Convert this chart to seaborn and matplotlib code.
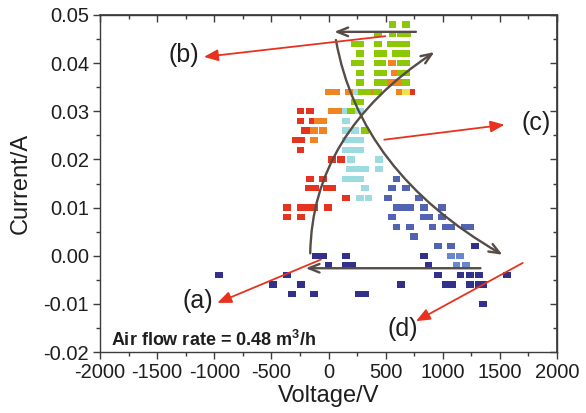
import matplotlib
matplotlib.use("Agg")
import numpy as np
import pandas as pd
import matplotlib.pyplot as plt
import seaborn as sns
from matplotlib.path import Path
from matplotlib.patches import FancyArrowPatch, ArrowStyle
from matplotlib.ticker import MultipleLocator, FormatStrFormatter

sns.set_theme(style="ticks")
plt.rcParams["font.family"] = ["Liberation Sans", "DejaVu Sans"]
plt.rcParams["axes.unicode_minus"] = False
plt.rcParams["mathtext.fontset"] = "custom"
plt.rcParams["mathtext.rm"] = "Liberation Sans"
plt.rcParams["mathtext.bf"] = "Liberation Sans:bold"

# Measured discharge points, grouped by colour; keys are current (A), values voltages (V)
navy = {
    0.002: [1280],
    0.000: [-110, -45, 155, 835],
    -0.002: [0, 150, 205, 875],
    -0.004: [-960, -360, 955, 1155, 1235, 1315, 1560],
    -0.006: [-485, -240, 635, 1030, 1080, 1235, 1320, 1355],
    -0.008: [-320, -125, 270, 320],
    -0.010: [1355],
}
light_blue = {
    0.000: [1075, 1150],
    -0.002: [1120, 1200],
}
blue = {
    0.016: [595],
    0.014: [555, 675],
    0.012: [520, 795],
    0.010: [595, 655, 715, 835, 995],
    0.008: [555, 835, 880, 995],
    0.006: [595, 715, 910, 1030, 1075, 1190, 1235],
    0.004: [750],
    0.002: [955, 1075],
}
red = {
    0.034: [725],
    0.030: [-245, -165],
    0.028: [-245, -135],
    0.026: [-210, -175],
    0.024: [-285, -240],
    0.022: [-245],
    0.020: [30, 110],
    0.016: [-165, -50],
    0.014: [-175, -120, -10, 35],
    0.012: [155],
    0.010: [-360, -240, -185, -125, -5],
    0.008: [-360, -240],
}
cyan = {
    0.034: [235],
    0.030: [155, 235, 275],
    0.028: [155],
    0.026: [155, 235],
    0.024: [150, 210, 275],
    0.022: [155, 210, 275],
    0.020: [195, 440],
    0.018: [190, 255, 320, 440],
    0.016: [155, 210, 275],
    0.014: [320],
    0.012: [275, 350],
}
orange = {
    0.040: [555],
    0.038: [585],
    0.036: [525, 570, 610],
    0.034: [0, 65, 180, 370, 625],
    0.030: [30, 80],
    0.028: [-90, -45],
    0.026: [-125, -45],
    0.024: [-125],
}
yellow = {
    0.034: [675],
}
green = {
    0.048: [560, 675],
    0.046: [435, 560, 635, 685],
    0.044: [230, 275, 435, 545, 610, 680],
    0.042: [275, 435, 480, 590, 635, 680],
    0.040: [230, 275, 435, 470, 635, 680],
    0.038: [275, 435, 480, 635, 680],
    0.036: [275, 435, 480, 680],
    0.034: [295, 335, 435],
    0.032: [235, 275],
    0.030: [195],
    0.026: [320],
}

series = [
    ("navy", navy), ("light_blue", light_blue), ("blue", blue),
    ("red", red), ("cyan", cyan), ("orange", orange),
    ("yellow", yellow), ("green", green),
]
palette = {
    "navy": "#33308C", "light_blue": "#6A86CC", "blue": "#5263B2",
    "red": "#E4341F", "cyan": "#9CDCE0", "orange": "#F08423",
    "yellow": "#F2E24A", "green": "#8CC805",
}

records = []
for name, table in series:
    for cur, volts in table.items():
        for v in volts:
            records.append((v, cur, name))
df = pd.DataFrame(records, columns=["Voltage", "Current", "group"])

fig = plt.figure(figsize=(5.86, 4.13), dpi=100)
ax = fig.add_axes([100 / 586, 1 - 352 / 413, 457 / 586, 337 / 413])

rect = [(-1.0, -0.8), (1.0, -0.8), (1.0, 0.8), (-1.0, 0.8), (-1.0, -0.8)]
sns.scatterplot(data=df, x="Voltage", y="Current", hue="group", palette=palette,
                marker=rect, s=32, linewidth=0, legend=False, ax=ax, zorder=3)

ax.set_xlim(-2000, 2000)
ax.set_ylim(-0.02, 0.05)

# Hysteresis guide arrows (dark grey)
grey = "#564C47"
gstyle = ArrowStyle("->", head_length=0.55, head_width=0.22)
ax.add_patch(FancyArrowPatch((765, 0.0465), (50, 0.0465), arrowstyle=gstyle,
                             mutation_scale=14, color=grey, lw=1.7,
                             shrinkA=0, shrinkB=0, zorder=4))
ax.add_patch(FancyArrowPatch((1330, -0.0026), (-200, -0.0026), arrowstyle=gstyle,
                             mutation_scale=14, color=grey, lw=1.7,
                             shrinkA=0, shrinkB=0, zorder=4))
rising = Path([(-160, 0.0005), (-143, 0.0255), (927, 0.0423)],
              [Path.MOVETO, Path.CURVE3, Path.CURVE3])
falling = Path([(65, 0.0448), (271, 0.01735), (1523, 0.0002)],
               [Path.MOVETO, Path.CURVE3, Path.CURVE3])
for p in (rising, falling):
    ax.add_patch(FancyArrowPatch(path=p, arrowstyle=gstyle, mutation_scale=14,
                                 color=grey, lw=1.7, shrinkA=0, shrinkB=0, zorder=4))

# Red pointer arrows to the stage labels
rstyle = ArrowStyle("-|>", head_length=0.6, head_width=0.25)
pointers = [((497, 0.0456), (-1090, 0.0413)),
            ((488, 0.0241), (1540, 0.0272)),
            ((-67, -0.0008), (-973, -0.0098)),
            ((1700, -0.0015), (766, -0.0136))]
for tail, tip in pointers:
    ax.add_patch(FancyArrowPatch(tail, tip, arrowstyle=rstyle, mutation_scale=14,
                                 color="#E8321E", lw=1.3, shrinkA=0, shrinkB=0,
                                 zorder=5))

labels = {"(a)": (-1140, -0.0095), "(b)": (-1265, 0.0417),
          "(c)": (1820, 0.0276), "(d)": (650, -0.0152)}
for txt, (x, y) in labels.items():
    ax.text(x, y, txt, fontsize=18, ha="center", va="center", color="#1E1E1E",
            zorder=6)

ax.text(0.024, 0.017, r"Air flow rate = 0.48 m$^{\mathbf{3}}$/h",
        transform=ax.transAxes, fontsize=13, fontweight="bold",
        va="baseline", ha="left", color="#1E1E1E")

# Axes styling
spine_c = "#3C3C3C"
for s in ax.spines.values():
    s.set_color(spine_c)
    s.set_linewidth(1.0)
    s.set_visible(True)

ax.xaxis.set_major_locator(MultipleLocator(500))
ax.xaxis.set_minor_locator(MultipleLocator(250))
ax.yaxis.set_major_locator(MultipleLocator(0.01))
ax.yaxis.set_minor_locator(MultipleLocator(0.005))
ax.yaxis.set_major_formatter(FormatStrFormatter("%.2f"))
ax.tick_params(which="both", direction="out", color=spine_c, width=1.0,
               bottom=True, left=True, top=False, right=False,
               labelsize=14.5, labelcolor="#1E1E1E", pad=3)
ax.tick_params(which="major", length=5)
ax.tick_params(which="minor", length=3)

top = ax.secondary_xaxis("top")
top.xaxis.set_major_locator(MultipleLocator(500))
top.xaxis.set_minor_locator(MultipleLocator(250))
top.tick_params(which="both", direction="in", color=spine_c, width=1.0,
                labeltop=False)
top.tick_params(which="major", length=5)
top.tick_params(which="minor", length=3)
right = ax.secondary_yaxis("right")
right.yaxis.set_major_locator(MultipleLocator(0.01))
right.yaxis.set_minor_locator(MultipleLocator(0.005))
right.tick_params(which="both", direction="in", color=spine_c, width=1.0,
                  labelright=False)
right.tick_params(which="major", length=5)
right.tick_params(which="minor", length=3)
for sec in (top, right):
    for s in sec.spines.values():
        s.set_color(spine_c)

ax.set_xlabel("Voltage/V", fontsize=17, color="#1E1E1E", labelpad=2)
ax.set_ylabel("Current/A", fontsize=17, color="#1E1E1E", labelpad=8)

fig.savefig("out.png", dpi=100)
